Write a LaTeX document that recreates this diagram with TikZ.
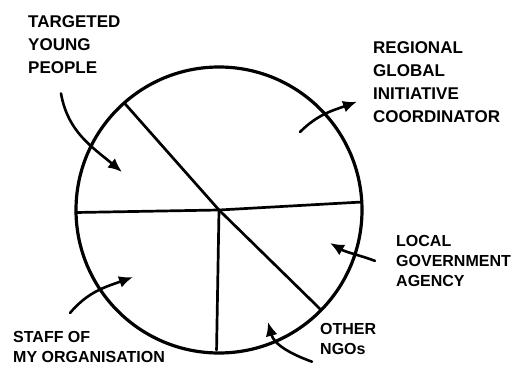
\documentclass[tikz,border=0pt]{standalone}
\usepackage{fontspec}
\setmainfont{Liberation Sans}
\usetikzlibrary{arrows.meta}

\begin{document}
\begin{tikzpicture}[x=1pt, y=-1pt,
    slicetext/.style={anchor=north west, align=left, inner sep=0pt,
      font=\bfseries\fontsize{17}{23}\selectfont},
    smalltext/.style={slicetext, font=\bfseries\fontsize{16}{20}\selectfont},
    spoke/.style={line width=2.7pt, line cap=round},
    pointer/.style={line width=2.6pt, line cap=round, -{Latex[length=14pt,width=12pt]}}]
  \useasboundingbox (0,0) rectangle (523,378);

  % Pie
  \coordinate (O) at (219,210);
  \draw[line width=3.2pt] (O) circle[radius=143pt];
  \coordinate (UL) at ([shift={(131.5:143pt)}]O);
  \coordinate (L) at ([shift={(181:143pt)}]O);
  \coordinate (R) at ([shift={(3.2:143pt)}]O);
  \coordinate (D) at ([shift={(269:140pt)}]O);
  \coordinate (DR) at ([shift={(315.6:143pt)}]O);
  \draw[spoke] (O) -- (UL);
  \draw[spoke] (O) -- (L);
  \draw[spoke] (O) -- (R);
  \draw[spoke] (O) -- (D);
  \draw[spoke] (O) -- (DR);

  % Nodes
  \node[slicetext] (tgt) at (28,15) {TARGETED\\YOUNG\\PEOPLE};
  \node[slicetext] (reg) at (373,41) {REGIONAL\\GLOBAL\\INITIATIVE\\COORDINATOR};
  \node[smalltext] (loc) at (396,235) {LOCAL\\GOVERNMENT\\AGENCY};
  \node[smalltext] (stf) at (13,331) {STAFF OF\\MY ORGANISATION};
  \node[smalltext] (oth) at (320,323) {OTHER\\NGOs};

  % Points in the slices
  \coordinate (tgt-pt) at (122,172);
  \coordinate (reg-pt) at (300,132);
  \coordinate (loc-pt) at (330,243);
  \coordinate (stf-pt) at (133,277);
  \coordinate (oth-pt) at (268,322);

  % Arrows
  \draw[pointer] ([xshift=33pt,yshift=-20pt]tgt.south west) to[out=-80, in=140] (tgt-pt);
  \draw[pointer] (reg-pt) to[out=45, in=200] ([xshift=-16pt,yshift=-20pt]reg.west);
  \draw[pointer] ([xshift=-21pt]loc.west) to[out=160, in=-30] (loc-pt);
  \draw[pointer] ([xshift=57pt,yshift=18pt]stf.north west) to[out=50, in=200] (stf-pt);
  \draw[pointer] ([xshift=-8pt,yshift=-7pt]oth.south west) to[out=160, in=-75] (oth-pt);
\end{tikzpicture}
\end{document}
